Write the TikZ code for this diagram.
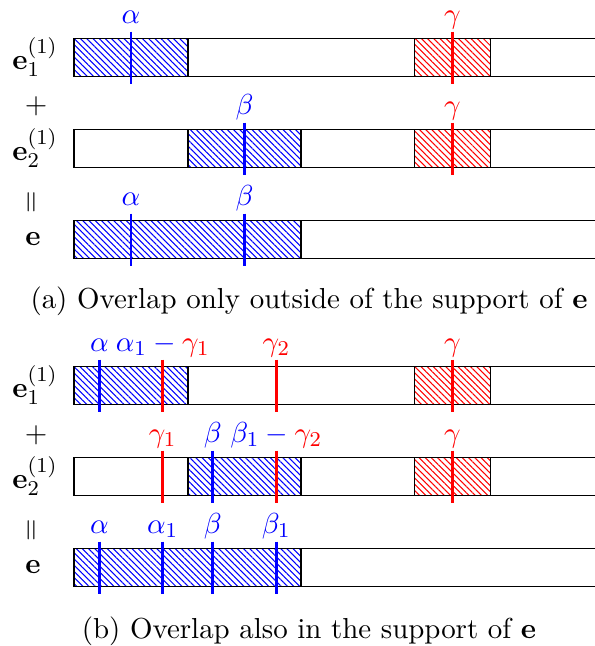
\documentclass[tikz,border=0pt,11pt]{standalone}
\usetikzlibrary{patterns.meta}
\begin{document}
\begin{tikzpicture}[x=0.3788pt,y=-0.3788pt,
  bar/.style={draw=black,line width=0.4pt,fill=white},
  bhatch/.style={draw=black,line width=0.4pt,pattern={Lines[angle=-45,distance=1.66pt,line width=0.4pt]},pattern color=blue},
  rhatch/.style={draw=black,line width=0.4pt,pattern={Lines[angle=-45,distance=1.66pt,line width=0.4pt]},pattern color=red},
  bmark/.style={draw=blue,line width=1.1pt},
  rmark/.style={draw=red,line width=1.1pt},
  lbl/.style={anchor=base,inner sep=0pt},
  side/.style={inner sep=0pt}]
\useasboundingbox (0,0) rectangle (595,646);
\clip (0,0) rectangle (595,646);

% ---------- (a) ----------
% row 1
\draw[bar] (74,38.5) rectangle (620,76.5);
\draw[bhatch] (74,38.5) rectangle (188,76.5);
\draw[rhatch] (414.5,38.5) rectangle (490.5,76.5);
\draw[bmark] (131,31.5) -- (131,83.5);
\draw[rmark] (452.5,31.5) -- (452.5,83.5);
\node[lbl] (a1al) at (131,23.5) {$\color{blue}\alpha$};
\node[lbl] (a1ga) at (452.5,23.5) {$\color{red}\gamma$};
\node[side] (a1e) at (35,57.5) {$\mathbf{e}_1^{(1)}$};
\node[side] (aplus) at (36,106) {$+$};
% row 2
\draw[bar] (74,129.5) rectangle (620,167.5);
\draw[bhatch] (188,129.5) rectangle (301,167.5);
\draw[rhatch] (414.5,129.5) rectangle (490.5,167.5);
\draw[bmark] (244.5,122.5) -- (244.5,174.5);
\draw[rmark] (452.5,122.5) -- (452.5,174.5);
\node[lbl] (a2be) at (244.5,114.5) {$\color{blue}\beta$};
\node[lbl] (a2ga) at (452.5,114.5) {$\color{red}\gamma$};
\node[side] (a2e) at (35,148.5) {$\mathbf{e}_2^{(1)}$};
\node[side,rotate=90] (aeq) at (33,202.5) {$=$};
% row 3
\draw[bar] (74,220.5) rectangle (620,258.5);
\draw[bhatch] (74,220.5) rectangle (301,258.5);
\draw[bmark] (131,213.5) -- (131,265.5);
\draw[bmark] (244.5,213.5) -- (244.5,265.5);
\node[lbl] (a3al) at (131,205.5) {$\color{blue}\alpha$};
\node[lbl] (a3be) at (244.5,205.5) {$\color{blue}\beta$};
\node[side] (a3e) at (33,239.5) {$\mathbf{e}$};
\node[lbl] (capa) at (309,308) {(a) Overlap only outside of the support of $\mathbf{e}$};

% ---------- (b) ----------
% row 1
\draw[bar] (74,366.5) rectangle (620,404.5);
\draw[bhatch] (74,366.5) rectangle (188,404.5);
\draw[rhatch] (414.5,366.5) rectangle (490.5,404.5);
\draw[bmark] (99.3,359.5) -- (99.3,411.5);
\draw[rmark] (162.7,359.5) -- (162.7,411.5);
\draw[rmark] (276.3,359.5) -- (276.3,411.5);
\draw[rmark] (452.5,359.5) -- (452.5,411.5);
\node[lbl] (b1al) at (99.3,351.5) {$\color{blue}\alpha$};
\node[lbl] (b1ag) at (162.7,351.5) {$\color{blue}\alpha_1-{\color{red}\gamma_1}$};
\node[lbl] (b1g2) at (276.3,351.5) {$\color{red}\gamma_2$};
\node[lbl] (b1ga) at (452.5,351.5) {$\color{red}\gamma$};
\node[side] (b1e) at (35,385.5) {$\mathbf{e}_1^{(1)}$};
\node[side] (bplus) at (36,435) {$+$};
% row 2
\draw[bar] (74,457.5) rectangle (620,495.5);
\draw[bhatch] (188,457.5) rectangle (301,495.5);
\draw[rhatch] (414.5,457.5) rectangle (490.5,495.5);
\draw[rmark] (162.7,450.5) -- (162.7,502.5);
\draw[bmark] (212.7,450.5) -- (212.7,502.5);
\draw[rmark] (276.3,450.5) -- (276.3,502.5);
\draw[rmark] (452.5,450.5) -- (452.5,502.5);
\node[lbl] (b2g1) at (162.7,442.5) {$\color{red}\gamma_1$};
\node[lbl] (b2be) at (212.7,442.5) {$\color{blue}\beta$};
\node[lbl] (b2bg) at (276.3,442.5) {$\color{blue}\beta_1-{\color{red}\gamma_2}$};
\node[lbl] (b2ga) at (452.5,442.5) {$\color{red}\gamma$};
\node[side] (b2e) at (35,476.5) {$\mathbf{e}_2^{(1)}$};
\node[side,rotate=90] (beq) at (33,530.5) {$=$};
% row 3
\draw[bar] (74,548.5) rectangle (620,586.5);
\draw[bhatch] (74,548.5) rectangle (301,586.5);
\draw[bmark] (99.3,541.5) -- (99.3,593.5);
\draw[bmark] (162.7,541.5) -- (162.7,593.5);
\draw[bmark] (212.7,541.5) -- (212.7,593.5);
\draw[bmark] (276.3,541.5) -- (276.3,593.5);
\node[lbl] (b3al) at (99.3,533.5) {$\color{blue}\alpha$};
\node[lbl] (b3a1) at (162.7,533.5) {$\color{blue}\alpha_1$};
\node[lbl] (b3be) at (212.7,533.5) {$\color{blue}\beta$};
\node[lbl] (b3b1) at (276.3,533.5) {$\color{blue}\beta_1$};
\node[side] (b3e) at (33,567.5) {$\mathbf{e}$};
\node[lbl] (capb) at (309,638) {(b) Overlap also in the support of $\mathbf{e}$};
\end{tikzpicture}
\end{document}
